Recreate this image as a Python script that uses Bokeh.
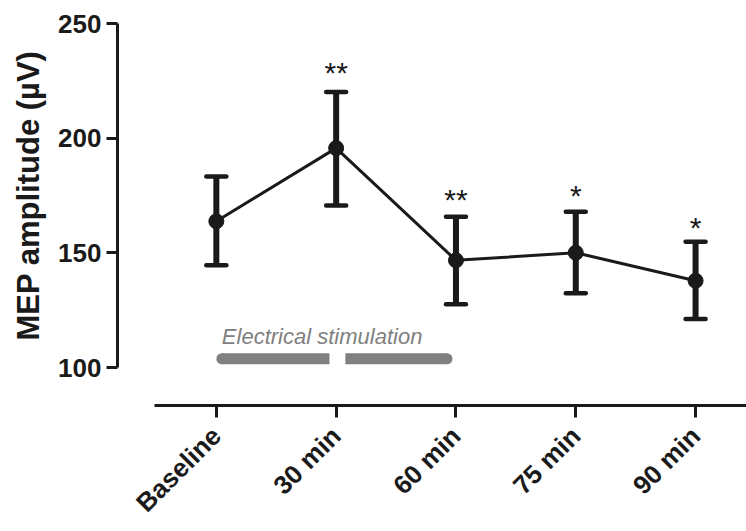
import math
from bokeh.plotting import figure
from bokeh.models import Range1d, FixedTicker, Whisker, TeeHead, ColumnDataSource, Title
from bokeh.core.properties import value
from bokeh.embed import file_html
from bokeh.resources import INLINE

# ---- data ----
categories = ["Baseline", "30 min", "60 min", "75 min", "90 min"]
x_pos = [0, 1, 2, 3, 4]
means = [163.8, 195.7, 146.8, 150.1, 137.9]
upper = [183.3, 220.2, 165.8, 168.0, 154.9]
lower = [144.6, 170.7, 127.7, 132.4, 121.2]
sig_labels = ["", "**", "**", "*", "*"]
sig_y = [None, 228.6, 173.3, 175.1, 161.1]
y_ticks = [100, 150, 200, 250]
stim_start = [0.046, 1.077]
stim_end = [0.944, 1.925]
stim_y = 103.9
stim_label = "Electrical stimulation"
stim_label_y = 113.4
y_title = "MEP amplitude (\u00b5V)"

BLACK = "#1a1a1a"
GRAY = "#808080"
FONT = "Liberation Sans"

p = figure(width=746, height=531, output_backend="svg", toolbar_location=None,
           x_range=Range1d(-0.825, 4.425), y_range=Range1d(83.526, 250),
           min_border_left=116, min_border_right=0, min_border_top=23,
           min_border_bottom=124)
p.outline_line_color = None
p.xgrid.visible = False
p.ygrid.visible = False
p.background_fill_color = "white"
p.border_fill_color = "white"

# y axis
ya = p.yaxis[0]
ya.ticker = FixedTicker(ticks=y_ticks)
ya.bounds = (100, 250)
ya.axis_line_width = 3
ya.axis_line_color = BLACK
ya.major_tick_line_width = 3
ya.major_tick_line_color = BLACK
ya.major_tick_out = 11
ya.major_tick_in = 0
ya.minor_tick_line_color = None
ya.major_label_text_font = FONT
ya.major_label_text_font_style = "bold"
ya.major_label_text_font_size = "26px"
ya.major_label_text_color = BLACK
ya.major_label_standoff = 5

# y axis title, centred on the bounded axis rather than the whole frame
p.add_layout(Title(text=y_title, align="left", offset=65, vertical_align="middle",
                   standoff=18, text_font=FONT, text_font_style="bold",
                   text_font_size="31px", text_color=BLACK), "left")

# x axis (detached from the y axis, Prism style)
xa = p.xaxis[0]
xa.ticker = FixedTicker(ticks=x_pos)
xa.major_label_overrides = {i: c for i, c in zip(x_pos, categories)}
xa.bounds = (-0.517, 4.425)
xa.axis_line_width = 3
xa.axis_line_color = BLACK
xa.major_tick_line_width = 3
xa.major_tick_line_color = BLACK
xa.major_tick_out = 12
xa.major_tick_in = 0
xa.minor_tick_line_color = None
xa.major_label_orientation = math.pi / 4
xa.major_label_text_font = FONT
xa.major_label_text_font_style = "bold"
xa.major_label_text_font_size = "26px"
xa.major_label_text_color = BLACK
xa.major_label_standoff = 14

# stimulation bars
p.segment(x0=stim_start, y0=[stim_y] * 2, x1=stim_end, y1=[stim_y] * 2,
          line_width=11, line_color=GRAY, line_cap="butt")
p.scatter(x=[stim_start[0], stim_end[1]], y=[stim_y] * 2, size=11,
          marker="circle", fill_color=GRAY, line_color=None)
p.text(x=[stim_start[0]], y=[stim_label_y], text=[stim_label], text_font=value(FONT),
       text_font_style="italic", text_font_size="22px", text_color=GRAY,
       text_align="left", text_baseline="middle")

# error bars
src = ColumnDataSource(dict(x=x_pos, m=means, up=upper, lo=lower))
w = Whisker(source=src, base="x", upper="up", lower="lo", dimension="height",
            line_width=6, line_color=BLACK,
            upper_head=TeeHead(size=20, line_width=4.5, line_color=BLACK, line_cap="round"),
            lower_head=TeeHead(size=20, line_width=4.5, line_color=BLACK, line_cap="round"))
p.add_layout(w)

# mean line and points
p.line(x="x", y="m", source=src, line_width=3, line_color=BLACK)
p.scatter(x="x", y="m", source=src, size=15, marker="circle",
          fill_color=BLACK, line_color=BLACK)

# significance
sx = [x for x, s in zip(x_pos, sig_labels) if s]
sy = [y for y, s in zip(sig_y, sig_labels) if s]
st = [s for s in sig_labels if s]
p.text(x=sx, y=sy, text=st, text_font=value(FONT), text_font_size="30px",
       text_color=BLACK, text_align="center", text_baseline="alphabetic")

open("out.html", "w").write(file_html(p, INLINE))
